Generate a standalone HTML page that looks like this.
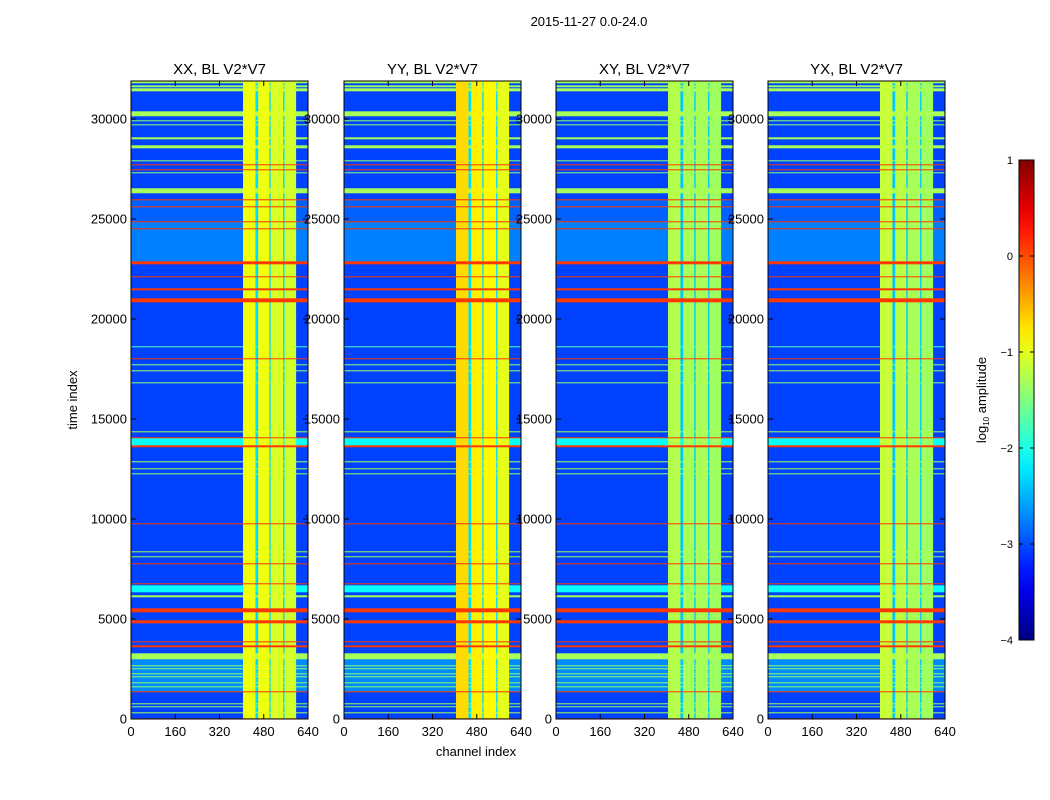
<!DOCTYPE html>
<html><head><meta charset="utf-8"><style>
html,body{margin:0;padding:0;background:#fff}
svg{display:block;font-family:"Liberation Sans",sans-serif}
</style></head><body>
<svg id="fig" width="1050" height="800" viewBox="0 0 1050 800" xmlns="http://www.w3.org/2000/svg">
<rect width="1050" height="800" fill="#fff"/>
<text x="589" y="26" font-size="13" text-anchor="middle">2015-11-27 0.0-24.0</text>
<text x="476" y="756" font-size="13" text-anchor="middle">channel index</text>
<text x="77" y="400" font-size="13" text-anchor="middle" transform="rotate(-90 77 400)">time index</text>
<g id="panels"></g>
<g id="cbar"></g>
</svg>
<script>
const panelTitles = ["XX, BL V2*V7","YY, BL V2*V7","XY, BL V2*V7","YX, BL V2*V7"];
const baseLevel = -3.05;
const regionStart = [22800, 24850, 1400, 13700, 6350];
const regionEnd   = [24850, 25950, 3000, 14050, 6700];
const regionLevel = [-2.75, -2.9, -2.7, -2.1, -2.1];
const colStart = [405, 450, 460, 500, 505, 550, 555];
const colEnd   = [450, 460, 500, 505, 550, 555, 597];
const colLevelXX = [-0.95, -2.3, -0.95, -2.3, -1.05, -2.3, -1.1];
const colLevelYY = [-0.7, -2.3, -0.8, -2.3, -0.85, -2.3, -1.0];
const colLevelXY = [-1.25, -2.4, -1.3, -2.4, -1.3, -2.4, -1.35];
const colLevelYX = [-1.15, -2.4, -1.2, -2.4, -1.3, -2.4, -1.35];
const rowStart = [31800,31600,31400,30150,29900,29700,29000,28550,27900,27300,26300,18600,17700,17400,16800,14350,12850,12500,12250,8350,8100,6100,3000,2650,2500,2250,2100,1800,1600,750,600,300,
                  27700,27450,25950,25600,24850,24500,22750,22100,21450,20850,18000,14050,13600,9750,7750,6750,5350,4800,3850,3600,1350,0];
const rowEnd   = [31900,31700,31550,30400,29950,29750,29100,28700,27950,27350,26550,18650,17750,17450,16850,14400,12900,12550,12300,8400,8150,6200,3300,2700,2550,2300,2150,1850,1650,800,650,350,
                  27750,27500,26000,25650,24900,24550,22900,22150,21550,21050,18050,14100,13700,9800,7800,6800,5550,4950,3900,3700,1400,50];
const rowLevel = [-1.3,-1.4,-1.3,-1.3,-1.4,-1.4,-1.3,-1.3,-1.4,-1.5,-1.3,-1.8,-1.4,-1.3,-1.4,-1.3,-1.3,-1.3,-1.4,-1.3,-1.3,-1.3,-1.3,-1.4,-1.4,-1.4,-1.4,-1.4,-1.4,-1.3,-1.4,-1.3,
                  0.1,0.1,0.1,0.1,0.1,0.1,0.1,0.1,0.1,0.1,0.1,0.1,0.1,0.1,0.1,0.1,0.1,0.1,0.1,0.1,0.1,0.1];
const yTicks = [0,5000,10000,15000,20000,25000,30000];
const xTicks = [0,160,320,480,640];
const cbTicks = [1,0,-1,-2,-3,-4];

const NS="http://www.w3.org/2000/svg";
const panelLeft=[131,344,556,768], PW=177, TOP=81, BOT=719, TMAX=31900, CMAX=640;
const colLevels=[colLevelXX,colLevelYY,colLevelXY,colLevelYX];
function jet(v){ let x=Math.max(0,Math.min(1,(v+4)/5));
  const c=t=>Math.round(255*Math.max(0,Math.min(1,1.5-Math.abs(t))));
  return `rgb(${c(4*x-3)},${c(4*x-2)},${c(4*x-1)})`; }
function mk(tag,attrs,parent){const e=document.createElementNS(NS,tag);for(const k in attrs)e.setAttribute(k,attrs[k]);parent.appendChild(e);return e;}
const yS=t=>BOT-(t/TMAX)*(BOT-TOP);
const panels=document.getElementById('panels');
const labels=mk('g',{},document.getElementById('fig'));



let tb=new Set([0,TMAX]);
regionStart.forEach((s,i)=>{tb.add(s);tb.add(regionEnd[i]);});
rowStart.forEach((s,i)=>{tb.add(s);tb.add(rowEnd[i]);});
tb=[...tb].sort((a,b)=>a-b);
let cb=new Set([0,CMAX]);
colStart.forEach((s,i)=>{cb.add(s);cb.add(colEnd[i]);});
cb=[...cb].sort((a,b)=>a-b);

panelTitles.forEach((title,p)=>{
  const L=panelLeft[p], xS=c=>L+(c/CMAX)*PW;
  const g=mk('g',{},panels);
  
  
  for(let i=0;i<tb.length-1;i++){
    const t0=tb[i],t1=tb[i+1],tm=(t0+t1)/2;
    let bg=baseLevel, rv=-9;
    regionStart.forEach((s,k)=>{if(tm>=s&&tm<regionEnd[k])bg=Math.max(bg,regionLevel[k]);});
    rowStart.forEach((s,k)=>{if(tm>=s&&tm<rowEnd[k])rv=Math.max(rv,rowLevel[k]);});
    for(let j=0;j<cb.length-1;j++){
      const c0=cb[j],c1=cb[j+1],cm=(c0+c1)/2;
      let cv=-9;
      colStart.forEach((s,k)=>{if(cm>=s&&cm<colEnd[k])cv=Math.max(cv,colLevels[p][k]);});
      const v=Math.max(bg,rv,cv);
      const y0=yS(t1),y1=yS(t0);
      const r=mk('rect',{x:xS(c0).toFixed(2),y:y0.toFixed(2),width:(xS(c1)-xS(c0)+0.3).toFixed(2),height:(y1-y0+0.3).toFixed(2),fill:jet(v)},g);
      
      
    }
  }
  const fr=mk('rect',{x:L,y:TOP,width:PW,height:BOT-TOP,fill:'none',stroke:'#000','stroke-width':1},g);
  
  
  const tt=mk('text',{x:L+PW/2,y:74,'font-size':15,'text-anchor':'middle'},g);
  tt.textContent=title;
  
  
  yTicks.forEach(t=>{const y=yS(t);
    mk('line',{x1:L,x2:L+5,y1:y,y2:y,stroke:'#000'},g);
    mk('line',{x1:L+PW-5,x2:L+PW,y1:y,y2:y,stroke:'#000'},g);
    const tx=mk('text',{x:L-4,y:y+4.5,'font-size':13,'text-anchor':'end'},labels);
    tx.textContent=t;
    
    
  });
  xTicks.forEach(c=>{const x=xS(c);
    mk('line',{x1:x,x2:x,y1:BOT,y2:BOT-5,stroke:'#000'},g);
    mk('line',{x1:x,x2:x,y1:TOP,y2:TOP+5,stroke:'#000'},g);
    const tx=mk('text',{x:x,y:736,'font-size':13,'text-anchor':'middle'},labels);
    tx.textContent=c;
    
    
  });
});

// colorbar
const cbg=document.getElementById('cbar');


const CX=1019,CW=15,CT=160,CB=640;
const defs=mk('defs',{},cbg);
const grad=mk('linearGradient',{id:'jetg',x1:0,y1:1,x2:0,y2:0},defs);
for(let i=0;i<=20;i++){mk('stop',{offset:i/20,'stop-color':jet(-4+5*i/20)},grad);}
mk('rect',{x:CX,y:CT,width:CW,height:CB-CT,fill:'url(#jetg)',stroke:'#000'},cbg);
cbTicks.forEach(v=>{const y=CB-(v+4)/5*(CB-CT);
  mk('line',{x1:CX,x2:CX+4,y1:y,y2:y,stroke:'#000'},cbg);
  mk('line',{x1:CX+CW-4,x2:CX+CW,y1:y,y2:y,stroke:'#000'},cbg);
  const tx=mk('text',{x:1013,y:y+4,'font-size':11,'text-anchor':'end'},cbg);
  tx.textContent=v<0?'\u2212'+(-v):String(v);
  
  
});
const cl=mk('text',{x:986,y:400,'font-size':13,'text-anchor':'middle',transform:'rotate(-90 986 400)'},cbg);
cl.innerHTML='log<tspan font-size="8" dy="3">10</tspan><tspan dy="-3"> amplitude</tspan>';


</script>
</body></html>
